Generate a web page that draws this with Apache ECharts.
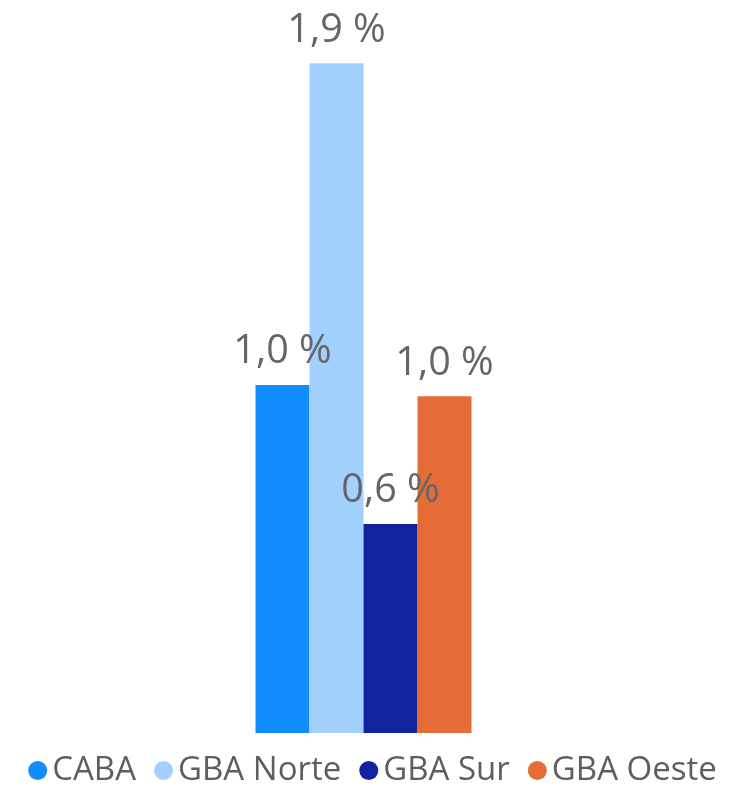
<!DOCTYPE html>
<html>
<head>
<meta charset="utf-8">
<script src="https://cdn.jsdelivr.net/npm/echarts@6/dist/echarts.min.js"></script>
<style>
html,body{margin:0;padding:0;background:#fff;}
#chart{width:745px;height:787px;}
</style>
</head>
<body>
<div id="chart"></div>
<script>
const categories = [''];
const seriesNames = ['CABA', 'GBA Norte', 'GBA Sur', 'GBA Oeste'];
const seriesValues = [0.987, 1.9, 0.593, 0.955];
const seriesColors = ['#118DFF', '#A3D1FF', '#12239E', '#E66C37'];

const chart = echarts.init(document.getElementById('chart'));
const fontFamily = "'Open Sans', 'Noto Sans', sans-serif";
chart.setOption({
  animation: false,
  grid: { left: 0, width: 727, top: 28, bottom: 54 },
  xAxis: { type: 'category', data: categories, show: false },
  yAxis: { type: 'value', min: 0, max: 2, show: false },
  legend: {
    bottom: 0,
    left: 'center',
    padding: 0,
    icon: 'circle',
    itemWidth: 19,
    itemHeight: 19,
    itemGap: 18,
    textStyle: { fontSize: 33, color: '#605E5C', fontFamily: fontFamily },
    data: seriesNames
  },
  series: seriesNames.map((name, i) => ({
    name: name,
    type: 'bar',
    data: [seriesValues[i]],
    barWidth: 54,
    barGap: '0%',
    itemStyle: { color: seriesColors[i] },
    label: {
      show: true,
      position: 'top',
      distance: 13,
      fontSize: 39.5,
      color: '#666666',
      fontFamily: fontFamily,
      formatter: p => p.value.toFixed(1).replace('.', ',') + ' %'
    }
  }))
});
</script>
</body>
</html>
